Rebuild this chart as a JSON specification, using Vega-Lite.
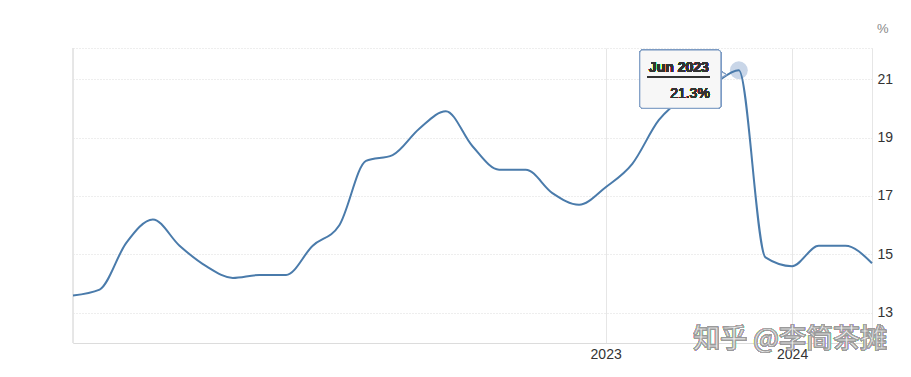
{
  "$schema": "https://vega.github.io/schema/vega-lite/v6.json",
  "width": 799,
  "height": 295,
  "autosize": {"type": "none"},
  "padding": {"left": 73, "top": 48, "right": 39, "bottom": 34},
  "background": "#ffffff",
  "config": {
    "view": {"stroke": "#dddddd", "strokeDash": [1, 2]},
    "font": "Liberation Sans"
  },
  "data": {
    "values": [
      {"month": "2021-04", "rate": 13.6},
      {"month": "2021-05", "rate": 13.8},
      {"month": "2021-06", "rate": 15.4},
      {"month": "2021-07", "rate": 16.2},
      {"month": "2021-08", "rate": 15.3},
      {"month": "2021-09", "rate": 14.6},
      {"month": "2021-10", "rate": 14.2},
      {"month": "2021-11", "rate": 14.3},
      {"month": "2021-12", "rate": 14.3},
      {"month": "2022-02", "rate": 15.3},
      {"month": "2022-03", "rate": 16.0},
      {"month": "2022-04", "rate": 18.2},
      {"month": "2022-05", "rate": 18.4},
      {"month": "2022-06", "rate": 19.3},
      {"month": "2022-07", "rate": 19.9},
      {"month": "2022-08", "rate": 18.7},
      {"month": "2022-09", "rate": 17.9},
      {"month": "2022-10", "rate": 17.9},
      {"month": "2022-11", "rate": 17.1},
      {"month": "2022-12", "rate": 16.7},
      {"month": "2023-01", "rate": 17.3},
      {"month": "2023-02", "rate": 18.1},
      {"month": "2023-03", "rate": 19.6},
      {"month": "2023-04", "rate": 20.4},
      {"month": "2023-05", "rate": 20.8},
      {"month": "2023-06", "rate": 21.3},
      {"month": "2023-12", "rate": 14.9},
      {"month": "2024-01", "rate": 14.6},
      {"month": "2024-02", "rate": 15.3},
      {"month": "2024-03", "rate": 15.3},
      {"month": "2024-04", "rate": 14.7}
    ]
  },
  "encoding": {
    "x": {
      "field": "month",
      "type": "ordinal",
      "scale": {"type": "point", "padding": 0},
      "axis": {
        "title": null,
        "values": ["2023-01", "2024-01"],
        "labelExpr": "slice(datum.value, 0, 4)",
        "labelAngle": 0,
        "labelFontSize": 14,
        "labelColor": "#333333",
        "labelPadding": 4,
        "ticks": false,
        "domainColor": "#dcdcdc",
        "grid": true,
        "gridColor": "#e6e6e6"
      }
    },
    "y": {
      "field": "rate",
      "type": "quantitative",
      "scale": {"domain": [11.974, 22.06], "nice": false, "zero": false},
      "axis": {
        "orient": "right",
        "values": [13, 15, 17, 19, 21],
        "labelFontSize": 14,
        "labelColor": "#333333",
        "labelPadding": 5,
        "ticks": false,
        "domainColor": "#e6e6e6",
        "gridColor": "#dddddd",
        "gridDash": [1, 2],
        "title": "%",
        "titleAngle": 0,
        "titleX": 16,
        "titleY": -20,
        "titleAlign": "right",
        "titleBaseline": "middle",
        "titleFontSize": 13,
        "titleFontWeight": "normal",
        "titleColor": "#888888"
      }
    }
  },
  "layer": [
    {
      "mark": {"type": "rule", "color": "#e6e6e6", "strokeWidth": 1},
      "encoding": {"x": {"datum": "2021-04"}, "y": null}
    },
    {
      "mark": {"type": "text", "font": "Noto Sans CJK SC", "fontSize": 27, "fill": "#eeeeee", "stroke": "#9a9a9a", "strokeWidth": 0.8, "align": "center", "baseline": "middle", "dx": -2},
      "encoding": {"x": {"datum": "2024-01"}, "y": {"datum": 12.08}, "text": {"value": "知乎 @李简茶摊"}}
    },
    {
      "transform": [{"filter": "datum.month === '2023-06'"}],
      "mark": {"type": "point", "filled": true, "size": 320, "color": "#c9d6e8", "opacity": 1, "dx": -2}
    },
    {
      "mark": {"type": "line", "interpolate": "monotone", "color": "#4a7bab", "strokeWidth": 2}
    },
    {
      "mark": {"type": "point", "shape": "triangle-right", "filled": true, "size": 70, "fill": "#f7f7f7", "stroke": "#7d9cc4", "strokeWidth": 1, "opacity": 1, "xOffset": -16},
      "encoding": {"x": {"datum": "2023-06"}, "y": {"datum": 21.15}}
    },
    {
      "mark": {"type": "rect", "fill": "#f7f7f7", "stroke": "#7d9cc4", "strokeWidth": 1, "cornerRadius": 3, "xOffset": -99, "x2Offset": -18},
      "encoding": {"x": {"datum": "2023-06"}, "x2": {"datum": "2023-06"}, "y": {"datum": 21.99}, "y2": {"datum": 20.0}}
    },
    {
      "mark": {"type": "rule", "color": "#333333", "strokeWidth": 1, "xOffset": -91, "x2Offset": -29},
      "encoding": {"x": {"datum": "2023-06"}, "x2": {"datum": "2023-06"}, "y": {"datum": 21.07}}
    },
    {
      "mark": {"type": "text", "fontSize": 14, "fontWeight": "bold", "color": "#333333", "align": "center", "baseline": "alphabetic", "dx": -60},
      "encoding": {"x": {"datum": "2023-06"}, "y": {"datum": 21.24}, "text": {"value": "Jun 2023"}}
    },
    {
      "mark": {"type": "text", "fontSize": 14, "color": "#333333", "align": "right", "baseline": "alphabetic", "dx": -29},
      "encoding": {"x": {"datum": "2023-06"}, "y": {"datum": 20.35}, "text": {"value": "21.3%"}}
    }
  ]
}
